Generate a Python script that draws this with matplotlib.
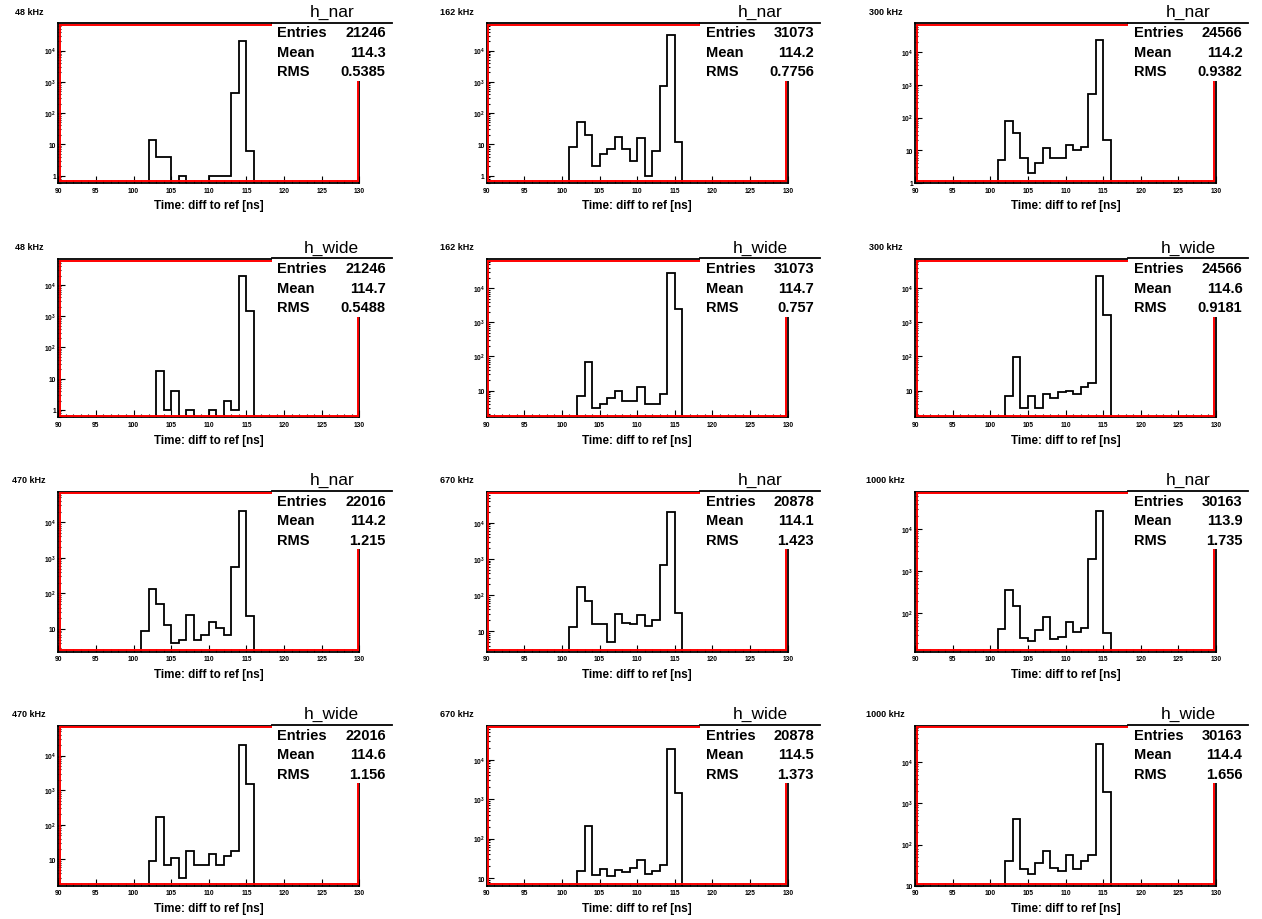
import numpy as np
import matplotlib
matplotlib.use("Agg")
import matplotlib.pyplot as plt
from matplotlib.ticker import FixedLocator, MultipleLocator, FuncFormatter, NullFormatter
from matplotlib.patches import Rectangle
from matplotlib.lines import Line2D

plt.rcParams['font.family'] = ['Liberation Sans', 'DejaVu Sans']
plt.rcParams['mathtext.fontset'] = 'custom'
plt.rcParams['mathtext.rm'] = 'Liberation Sans'
plt.rcParams['mathtext.bf'] = 'Liberation Sans:bold'

# ---------------------------------------------------------------- data
BIN_LO, BIN_HI = 90, 130          # histogram range [ns], 1 ns bins
FIRST_BIN = 101                   # lower edge of first listed bin
rates_top = ["48 kHz", "162 kHz", "300 kHz"]
rates_bottom = ["470 kHz", "670 kHz", "1000 kHz"]

# counts for bins 101..115 ns
nar_48 = [0, 14, 4, 4, 0, 1, 0, 0, 0, 1, 1, 1, 446, 20768, 6]
nar_162 = [8, 53, 20, 2, 5, 7, 17, 7, 3, 16, 1, 6, 710, 30206, 12]
nar_300 = [5, 77, 33, 6, 2, 4, 12, 6, 6, 15, 10, 13, 533, 23823, 21]
wide_48 = [0, 0, 17, 1, 4, 0, 1, 0, 0, 1, 0, 2, 1, 19779, 1440]
wide_162 = [0, 7, 68, 3, 4, 6, 10, 5, 5, 13, 4, 4, 8, 28536, 2400]
wide_300 = [0, 7, 97, 3, 7, 3, 8, 6, 9, 10, 8, 13, 17, 22738, 1640]
nar_470 = [9, 132, 50, 13, 4, 5, 25, 5, 7, 16, 11, 7, 570, 21139, 23]
nar_670 = [13, 167, 69, 16, 16, 5, 29, 17, 16, 28, 14, 20, 680, 19757, 31]
nar_1000 = [42, 357, 152, 26, 22, 41, 80, 24, 28, 63, 37, 45, 1960, 27232, 34]
wide_470 = [0, 9, 166, 7, 11, 3, 18, 7, 7, 14, 7, 13, 18, 20246, 1490]
wide_670 = [0, 15, 214, 12, 17, 11, 16, 14, 18, 28, 13, 15, 21, 19084, 1390]
wide_1000 = [0, 40, 427, 26, 19, 36, 70, 27, 23, 55, 26, 40, 55, 27404, 1915]

# statistics boxes
entries_top = ["21246", "31073", "24566"]
entries_bottom = ["22016", "20878", "30163"]
mean_nar_top = ["114.3", "114.2", "114.2"]
rms_nar_top = ["0.5385", "0.7756", "0.9382"]
mean_wide_top = ["114.7", "114.7", "114.6"]
rms_wide_top = ["0.5488", "0.757", "0.9181"]
mean_nar_bottom = ["114.2", "114.1", "113.9"]
rms_nar_bottom = ["1.215", "1.423", "1.735"]
mean_wide_bottom = ["114.6", "114.5", "114.4"]
rms_wide_bottom = ["1.156", "1.373", "1.656"]

# y-axis ranges (log scale)
ymin_rows = [[0.58, 0.58, 1.0], [0.58, 1.64, 1.64],
             [2.3, 2.7, 12.3], [1.75, 6.4, 10.0]]
ymax_exp_rows = [[4.87, 4.87, 4.88], [4.83, 4.86, 4.86],
                 [4.86, 4.86, 4.885], [4.86, 4.86, 4.89]]

# ---------------------------------------------------------------- layout
W, H, DPI = 1262, 920, 100
col_left = [58.3, 486.7, 915.0]
frame_w = 301.0
row_top = [24.3, 260.0, 492.7, 726.7]
row_bot = [184.0, 418.3, 652.7, 886.7]

rows = [
    ("h_nar", rates_top, [nar_48, nar_162, nar_300], entries_top, mean_nar_top, rms_nar_top),
    ("h_wide", rates_top, [wide_48, wide_162, wide_300], entries_top, mean_wide_top, rms_wide_top),
    ("h_nar", rates_bottom, [nar_470, nar_670, nar_1000], entries_bottom, mean_nar_bottom, rms_nar_bottom),
    ("h_wide", rates_bottom, [wide_470, wide_670, wide_1000], entries_bottom, mean_wide_bottom, rms_wide_bottom),
]


def fx(x):
    return x / W


def fy(y):
    return 1.0 - y / H


def log_label(v, pos):
    e = int(round(np.log10(v)))
    if e == 0:
        return "1"
    if e == 1:
        return "10"
    return r"$\mathbf{10^{%d}}$" % e


fig = plt.figure(figsize=(W / DPI, H / DPI), dpi=DPI)
fig.patch.set_facecolor("white")

edges = np.arange(BIN_LO, BIN_HI + 1)
offset = FIRST_BIN - BIN_LO

for r, (hname, rates, series, entries, means, rmss) in enumerate(rows):
    top, bot = row_top[r], row_bot[r]
    fh = bot - top
    for c in range(3):
        left = col_left[c]
        ax = fig.add_axes([fx(left), fy(bot), frame_w / W, fh / H])
        counts = np.zeros(len(edges) - 1)
        vals = np.asarray(series[c], dtype=float)
        counts[offset:offset + len(vals)] = vals

        ax.set_yscale("log")
        ax.stairs(counts, edges, color="black", linewidth=1.3, baseline=0, zorder=3)
        ymin = ymin_rows[r][c]
        ymax = 10 ** ymax_exp_rows[r][c]
        ax.set_xlim(BIN_LO, BIN_HI)
        ax.set_ylim(ymin, ymax)

        # ticks
        ax.xaxis.set_major_locator(MultipleLocator(5))
        ax.xaxis.set_minor_locator(MultipleLocator(1))
        decades = [10.0 ** e for e in range(-1, 6) if ymin * 0.999 <= 10.0 ** e <= ymax]
        minors = [m * 10.0 ** e for e in range(-1, 6) for m in range(2, 10)
                  if ymin <= m * 10.0 ** e <= ymax]
        ax.yaxis.set_major_locator(FixedLocator(decades))
        ax.yaxis.set_minor_locator(FixedLocator(minors))
        ax.yaxis.set_major_formatter(FuncFormatter(log_label))
        ax.yaxis.set_minor_formatter(NullFormatter())
        ax.tick_params(axis="both", which="both", direction="in", top=False, right=False,
                       width=0.8, colors="black")
        ax.tick_params(axis="both", which="major", length=5)
        ax.tick_params(axis="both", which="minor", length=2.5)
        ax.tick_params(axis="x", which="major", pad=2.6, labelsize=4.8)
        ax.tick_params(axis="y", which="major", pad=1.5, labelsize=4.8)
        for lab in ax.get_xticklabels() + ax.get_yticklabels():
            lab.set_fontweight("bold")

        for sp in ax.spines.values():
            sp.set_linewidth(1.3)
            sp.set_color("black")

        # red inner frame
        dx, dy = 1.6 / frame_w, 1.6 / fh
        for xs, ys in [([dx, dx], [dy, 1 - dy]), ([dx, 1 - dx], [dy, dy]),
                       ([dx, 1 - dx], [1 - dy, 1 - dy]), ([1 - dx, 1 - dx], [dy, 1 - dy])]:
            ax.add_line(Line2D(xs, ys, transform=ax.transAxes, color="#ff0000",
                               linewidth=1.4, clip_on=False, zorder=4))

        # statistics box
        box_r = left + frame_w + 32.4
        box_l = box_r - 120.0
        box_b = top + 57.5
        fig.add_artist(Rectangle((fx(box_l), fy(box_b)), (box_r - box_l) / W, (box_b - top + 1.5) / H,
                                 transform=fig.transFigure, facecolor="white", edgecolor="none",
                                 zorder=5))
        fig.add_artist(Line2D([fx(box_l), fx(box_r)], [fy(top - 0.8), fy(top - 0.8)],
                              transform=fig.transFigure, color="black", linewidth=1.3, zorder=6))
        fig.text(fx((box_l + box_r) / 2), fy(top - 12.0), hname, ha="center", va="center",
                 fontsize=12.5, zorder=7)
        for k, (lab, val) in enumerate([("Entries", entries[c]), ("Mean", means[c]), ("RMS", rmss[c])]):
            yy = fy(top + 9.0 + 19.6 * k)
            fig.text(fx(box_l + 5.5), yy, lab, ha="left", va="center", fontsize=10.5,
                     fontweight="bold", zorder=7)
            fig.text(fx(box_r - 6.0), yy, val, ha="right", va="center", fontsize=10.5,
                     fontweight="bold", zorder=7)

        # rate label and axis title
        fig.text(fx(left - 29.5), fy(top - 12.0), rates[c], ha="center", va="center",
                 fontsize=6.5, fontweight="bold")
        fig.text(fx(left + frame_w / 2), fy(bot + 22.5), "Time: diff to ref [ns]",
                 ha="center", va="center", fontsize=8.4, fontweight="bold")

fig.savefig("out.png", dpi=DPI, facecolor="white")
